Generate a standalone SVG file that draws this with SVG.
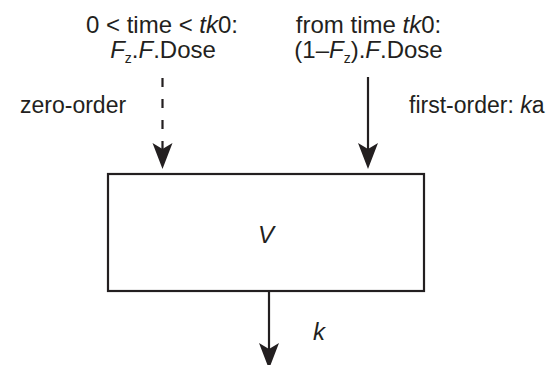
<svg xmlns="http://www.w3.org/2000/svg" width="558" height="365" viewBox="0 0 558 365">
<style>
text{font-family:"Liberation Sans",Arial,sans-serif;font-size:23px;fill:#231f20}
.t{font-size:24px}
.i{font-style:italic}
.sub{font-size:14px}
.ln{stroke:#231f20;stroke-width:2.2;fill:none}
.dash{stroke-dasharray:9 12}
</style>
<defs>
<marker id="ah" markerUnits="userSpaceOnUse" markerWidth="26" markerHeight="22" refX="6" refY="11" orient="auto" viewBox="0 0 26 22">
<path d="M0,1 L26,11 L0,21 L6,11 Z" fill="#231f20"/>
</marker>
</defs>
<g id="connectors">
<line class="ln dash" x1="162.5" y1="78" x2="162.5" y2="149" marker-end="url(#ah)"/>
<line class="ln" x1="368" y1="77" x2="368" y2="149" marker-end="url(#ah)"/>
<line class="ln" x1="269" y1="291" x2="269" y2="349" marker-end="url(#ah)"/>
</g>
<g id="box">
<rect x="108" y="174" width="316" height="117" fill="#fff" stroke="#231f20" stroke-width="2.2"/>
<text x="266" y="243" text-anchor="middle" class="i t">V</text>
</g>
<g id="input-zero">
<text x="162" y="33" text-anchor="middle" class="t">0 &lt; time &lt; <tspan class="i">tk</tspan>0:</text>
<text x="163" y="58" text-anchor="middle" class="t"><tspan class="i">F</tspan><tspan class="sub" dy="5">z</tspan><tspan dy="-5">.</tspan><tspan class="i">F</tspan>.Dose</text>
<text x="20" y="113">zero-order</text>
</g>
<g id="input-first">
<text x="368.5" y="33" text-anchor="middle" class="t">from time <tspan class="i">tk</tspan>0:</text>
<text x="368.5" y="58" text-anchor="middle" class="t">(1–<tspan class="i">F</tspan><tspan class="sub" dy="5">z</tspan><tspan dy="-5">).</tspan><tspan class="i">F</tspan>.Dose</text>
<text x="409" y="113">first-order: <tspan class="i">k</tspan>a</text>
</g>
<g id="elimination">
<text x="313" y="340" class="i t">k</text>
</g>
</svg>
